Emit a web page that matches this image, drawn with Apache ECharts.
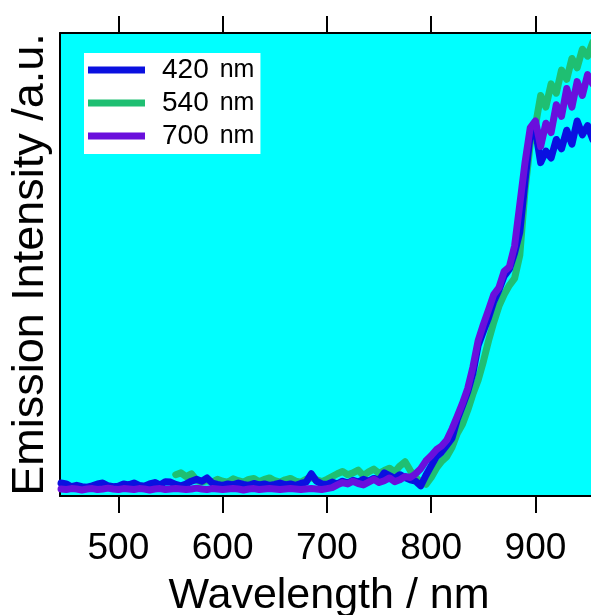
<!DOCTYPE html>
<html>
<head>
<meta charset="utf-8">
<script src="https://cdn.jsdelivr.net/npm/echarts@6/dist/echarts.min.js"></script>
<style>
  html, body { margin: 0; padding: 0; background: #fff; }
  #chart { width: 591px; height: 615px; }
</style>
</head>
<body>
<div id="chart"></div>
<script>
// wavelength samples (nm)
const wl = [
  445,450,455,460,465,470,475,480,485,490,
  495,500,505,510,515,520,525,530,535,540,
  545,550,555,560,565,570,575,580,585,590,
  595,600,605,610,615,620,625,630,635,640,
  645,650,655,660,665,670,675,680,685,690,
  695,700,705,710,715,720,725,730,735,740,
  745,750,755,760,765,770,775,780,785,790,
  795,800,805,810,815,820,825,830,835,840,
  845,850,855,860,865,870,875,880,885,890,
  895,900,905,910,915,920,925,930,935,940,
  945,950,955
];
const wlGreen = [
  555,560,565,570,575,580,585,590,595,600,
  605,610,615,620,625,630,635,640,645,650,
  655,660,665,670,675,680,685,690,695,700,
  705,710,715,720,725,730,735,740,745,750,
  755,760,765,770,775,780,785,790,795,800,
  805,810,815,820,825,830,835,840,845,850,
  855,860,865,870,875,880,885,890,895,900,
  905,910,915,920,925,930,935,940,945,950,
  955
];

// emission intensity (a.u.)
const ex420 = [
  2.8,2.6,2.0,2.3,2.0,1.9,2.2,2.6,2.8,2.2,
  2.0,2.1,2.6,2.4,2.8,2.3,2.1,2.6,2.9,2.4,
  3.1,3.0,2.5,2.2,2.6,3.2,3.6,3.2,3.9,2.8,
  2.5,2.3,2.6,2.4,2.8,2.5,2.3,2.7,2.4,2.6,
  2.3,2.5,2.8,2.4,2.6,2.3,2.7,3.0,4.8,3.2,
  2.6,2.5,3.0,2.6,3.2,2.8,3.4,3.0,3.6,3.2,
  3.8,3.4,5.0,4.4,3.8,4.6,4.0,3.5,3.2,2.2,
  4.5,6.5,8.5,9.5,11.0,12.5,16.5,19.5,22.5,26.5,
  32.5,35.5,38.5,42.0,44.5,47.5,49.0,52.5,57.0,68.0,
  78.0,79.0,72.0,74.5,73.0,77.0,75.0,79.0,76.0,81.0,
  78.0,80.0,77.0
];
const ex540 = [
  4.6,5.0,4.2,4.8,3.4,3.0,3.3,3.0,3.6,3.2,
  3.0,3.7,3.3,3.0,3.6,3.8,3.1,3.6,3.9,3.3,
  3.0,3.5,3.8,3.2,3.0,3.6,4.0,3.5,3.1,3.6,
  4.2,4.8,5.3,4.6,5.0,5.6,4.4,5.2,5.8,4.9,
  5.5,6.0,5.2,6.5,7.4,5.5,4.0,3.0,2.5,4.0,
  6.0,7.5,8.5,10.5,13.5,15.5,18.5,22.0,25.0,29.0,
  33.5,37.5,41.0,43.5,45.5,47.0,52.0,66.0,76.0,80.0,
  86.5,84.0,89.0,87.0,92.0,90.0,94.5,92.5,96.5,95.0,
  98.0
];
const ex700 = [
  1.5,1.4,1.6,1.5,1.3,1.5,1.6,1.4,1.5,1.7,
  1.5,1.4,1.6,1.5,1.4,1.6,1.5,1.3,1.5,1.6,
  1.4,1.5,1.6,1.5,1.4,1.5,1.7,1.5,1.4,1.6,
  1.5,1.4,1.5,1.6,1.5,1.3,1.5,1.6,1.4,1.5,
  1.6,1.5,1.4,1.5,1.6,1.5,1.4,1.5,1.6,1.5,
  1.4,1.6,1.8,2.4,2.9,2.6,3.2,2.7,2.4,3.0,
  3.6,2.9,3.3,3.9,3.1,3.5,4.2,4.0,4.8,5.9,
  7.6,8.7,10.0,10.8,12.1,14.5,17.2,20.0,23.2,27.8,
  33.5,37.0,40.2,43.5,45.0,48.5,49.5,54.0,63.0,72.0,
  79.5,81.0,75.5,80.5,78.5,84.5,82.0,88.0,84.0,89.5,
  86.5,91.0,89.0
];

const tickValues = [500, 600, 700, 800, 900];
const seriesNames = ['420 nm', '540 nm', '700 nm'];
const colors = ['#0a10e0', '#1fbf72', '#6a0fdc'];

const pair = (xs, ys) => xs.map((x, i) => [x, ys[i]]);

const chart = echarts.init(document.getElementById('chart'));
const font = '"Liberation Sans", Arial, sans-serif';

chart.setOption({
  animation: false,
  textStyle: { fontFamily: font },
  grid: {
    left: 60, top: 33, right: -7, bottom: 119,
    outerBoundsMode: 'none', containLabel: false,
    show: true, backgroundColor: '#00ffff', borderWidth: 0
  },
  legend: {
    data: seriesNames,
    orient: 'vertical',
    left: 84, top: 53,
    backgroundColor: '#ffffff',
    padding: [3, 6, 4, 4],
    icon: 'rect',
    itemWidth: 57, itemHeight: 7, itemGap: 5,
    formatter: (name) => {
      const p = name.split(' ');
      return '{n|' + p[0] + '}{u|' + p[1] + '}';
    },
    textStyle: {
      color: '#000',
      rich: {
        n: { fontSize: 28, fontFamily: font, color: '#000', padding: [0, 0, 0, 12] },
        u: { fontSize: 25, fontFamily: font, color: '#000', padding: [0, 0, 0, 11] }
      }
    }
  },
  xAxis: [{
    type: 'value', position: 'bottom', min: 444, max: 960,
    name: 'Wavelength / nm', nameLocation: 'middle', nameGap: 79,
    nameTextStyle: { fontSize: 43, color: '#000', fontFamily: font },
    axisLine: { show: true, onZero: false, lineStyle: { color: '#000', width: 2 } },
    axisTick: { show: true, inside: false, length: 17, customValues: tickValues,
                lineStyle: { color: '#000', width: 2 } },
    axisLabel: { show: true, margin: 34, fontSize: 37, color: '#000', customValues: tickValues },
    splitLine: { show: false }
  }, {
    type: 'value', position: 'top', min: 444, max: 960,
    axisLine: { show: true, onZero: false, lineStyle: { color: '#000', width: 2 } },
    axisTick: { show: true, inside: false, length: 17, customValues: tickValues,
                lineStyle: { color: '#000', width: 2 } },
    axisLabel: { show: false },
    splitLine: { show: false }
  }],
  yAxis: {
    type: 'value', min: 0, max: 100,
    name: 'Emission Intensity /a.u.', nameLocation: 'middle', nameGap: 7,
    nameTextStyle: { fontSize: 45, color: '#000', fontFamily: font },
    axisLine: { show: true, lineStyle: { color: '#000', width: 2 } },
    axisTick: { show: false },
    axisLabel: { show: false },
    splitLine: { show: false }
  },
  series: [
    { name: seriesNames[0], type: 'line', data: pair(wl, ex420), z: 3 },
    { name: seriesNames[1], type: 'line', data: pair(wlGreen, ex540), z: 2 },
    { name: seriesNames[2], type: 'line', data: pair(wl, ex700), z: 4 }
  ].map((s, i) => Object.assign(s, {
    showSymbol: false, symbol: 'none',
    color: colors[i],
    lineStyle: { color: colors[i], width: 7, join: 'round', cap: 'round' }
  }))
});
</script>
</body>
</html>
